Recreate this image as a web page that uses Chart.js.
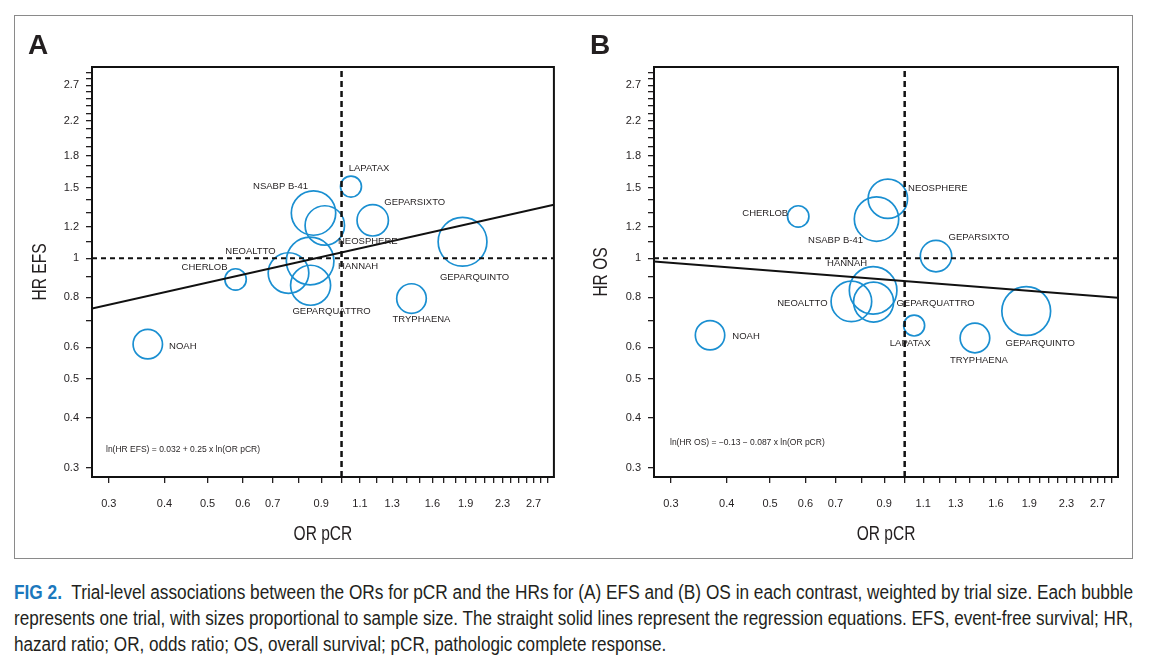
<!DOCTYPE html>
<html>
<head>
<meta charset="utf-8">
<script src="https://cdn.jsdelivr.net/npm/chart.js@4.4.1/dist/chart.umd.min.js"></script>
<style>
  body { margin: 0; background: #fff; width: 1149px; height: 667px; position: relative; overflow: hidden; }
  #frame { position: absolute; left: 14px; top: 15px; width: 1117px; height: 542px; border: 1.5px solid #8a8a8a; }
  canvas { position: absolute; top: 0; }
  #chartA { left: 0; }
  #chartB { left: 580px; }
  #caption {
    position: absolute; left: 14px; top: 579px; width: 1119px;
    font-family: 'Liberation Sans', Arial, sans-serif;
    font-size: 20px; line-height: 26px; color: #231f20;
  }
  .cl { display: block; width: max-content; white-space: nowrap; transform-origin: 0 50%; }
  .fig { color: #1b78bd; font-weight: bold; }
</style>
</head>
<body>
<div id="frame"></div>
<canvas id="chartA" width="580" height="560"></canvas>
<canvas id="chartB" width="569" height="560"></canvas>
<div id="caption">
  <div class="cl" data-fit="1"><span class="fig">FIG 2.</span>&nbsp; Trial-level associations between the ORs for pCR and the HRs for (A) EFS and (B) OS in each contrast, weighted by trial size. Each bubble</div>
  <div class="cl" data-fit="1">represents one trial, with sizes proportional to sample size. The straight solid lines represent the regression equations. EFS, event-free survival; HR,</div>
  <div class="cl">hazard ratio; OR, odds ratio; OS, overall survival; pCR, pathologic complete response.</div>
</div>
<script>
// trial-level data
const trials = ['NOAH', 'CHERLOB', 'NEOALTTO', 'GEPARQUATTRO', 'HANNAH', 'NSABP B-41',
                'NEOSPHERE', 'LAPATAX', 'GEPARSIXTO', 'TRYPHAENA', 'GEPARQUINTO'];
const orPcr = [0.367, 0.578, 0.76, 0.852, 0.85, 0.865, 0.917, 1.05, 1.175, 1.436, 1.87];
const hrEfs = [0.611, 0.886, 0.919, 0.857, 0.985, 1.297, 1.208, 1.51, 1.244, 0.794, 1.10];
const hrOs = [0.643, 1.272, 0.781, 0.778, 0.832, 1.253, 1.408, 0.680, 1.013, 0.633, 0.739];
const sampleSize = [216, 114, 412, 400, 566, 493, 388, 110, 246, 219, 595];

// regression lines (end points at the axis limits)
const efsFitX = [0.275, 3.0];
const efsFitY = [0.75, 1.36];
const osFitX = [0.275, 3.0];
const osFitY = [0.982, 0.798];

// axes
const xRange = [0.275, 3.0];
const yRange = [0.285, 3.0];
const xTickLabels = [0.3, 0.4, 0.5, 0.6, 0.7, 0.9, 1.1, 1.3, 1.6, 1.9, 2.3, 2.7];
const yTickLabels = [0.3, 0.4, 0.5, 0.6, 0.8, 1, 1.2, 1.5, 1.8, 2.2, 2.7];

// label placement relative to bubble centre (px)
const efsLabelOffsets = [[35, 2], [-31, -12], [-38, -22], [21, 26], [48, 5], [-33, -27],
                         [43, 16], [18, -18], [42, -18], [10, 21], [12, 36]];
const osLabelOffsets = [[36, 1], [-33, -3], [-49, 2], [62, 1], [-26, -27], [-41, 21],
                        [50, -10], [-4, 18], [43, -19], [4, 22], [14, 32]];

const BLUE = '#1a8fd1';
const INK = '#231f20';
const SANS = "'Liberation Sans', Arial, sans-serif";
const SQUEEZE = 0.74; // no condensed face installed, so axis titles get squeezed

// minor tick every 0.1 between 0.3 and 2.9
const tickMarks = [];
for (let i = 3; i <= 29; i++) tickMarks.push(i / 10);

function labelFor(value, list) {
  const hit = list.find(v => Math.abs(v - value) < 1e-6);
  return hit === undefined ? '' : String(hit);
}

// frame, bubble names, equation, axis titles and panel letter
const annotate = {
  id: 'annotate',
  afterDatasetsDraw(chart, args, opts) {
    const { ctx, chartArea } = chart;
    ctx.save();
    ctx.strokeStyle = '#111';
    ctx.lineWidth = 2;
    ctx.strokeRect(chartArea.left, chartArea.top, chartArea.right - chartArea.left, chartArea.bottom - chartArea.top);

    const meta = chart.getDatasetMeta(3);
    ctx.fillStyle = INK;
    ctx.font = '9.5px ' + SANS;
    ctx.textAlign = 'center';
    ctx.textBaseline = 'middle';
    meta.data.forEach((el, i) => {
      const [dx, dy] = opts.offsets[i];
      ctx.fillText(trials[i], el.x + dx, el.y + dy);
    });

    ctx.font = '8.5px ' + SANS;
    ctx.textAlign = 'left';
    ctx.fillText(opts.equation, chartArea.left + opts.eqDx, chartArea.bottom - opts.eqDy);

    // axis titles
    ctx.font = '21px ' + SANS;
    ctx.textAlign = 'center';
    ctx.save();
    ctx.translate((chartArea.left + chartArea.right) / 2, 534);
    ctx.scale(SQUEEZE, 1);
    ctx.fillText('OR pCR', 0, 0);
    ctx.restore();
    ctx.save();
    ctx.translate(opts.yTitleX, (chartArea.top + chartArea.bottom) / 2);
    ctx.rotate(-Math.PI / 2);
    ctx.scale(SQUEEZE, 1);
    ctx.fillText(opts.yTitle, 0, 0);
    ctx.restore();

    ctx.font = 'bold 28px ' + SANS;
    ctx.textBaseline = 'alphabetic';
    ctx.fillText(opts.letter, opts.letterX, 54);
    ctx.restore();
  }
};

function makePanel(id, hr, fitX, fitY, p) {
  const bubbles = trials.map((t, i) => ({ x: orPcr[i], y: hr[i], r: Math.sqrt(sampleSize[i]) }));
  const fit = fitX.map((x, i) => ({ x: x, y: fitY[i] }));
  return new Chart(document.getElementById(id), {
    type: 'bubble',
    data: {
      datasets: [
        { type: 'line', data: [{ x: xRange[0], y: 1 }, { x: xRange[1], y: 1 }],
          borderColor: '#111', borderWidth: 2, borderDash: [5, 4], pointRadius: 0, fill: false },
        { type: 'line', data: [{ x: 1, y: yRange[0] }, { x: 1, y: yRange[1] }],
          borderColor: '#111', borderWidth: 2.5, borderDash: [6, 4], pointRadius: 0, fill: false },
        { type: 'line', data: fit, borderColor: '#111', borderWidth: 2, pointRadius: 0, fill: false },
        { type: 'bubble', data: bubbles, borderColor: BLUE, backgroundColor: 'rgba(0,0,0,0)',
          borderWidth: 1.7, hoverRadius: 0, hoverBorderWidth: 1.7 }
      ]
    },
    options: {
      responsive: false,
      animation: false,
      events: [],
      layout: { padding: { top: 67, right: p.padRight, bottom: 0, left: 0 } },
      plugins: {
        legend: { display: false },
        tooltip: { enabled: false },
        annotate: { offsets: p.offsets, equation: p.equation, eqDx: p.eqDx, eqDy: p.eqDy,
                    letter: p.letter, letterX: p.letterX, yTitle: p.yTitle, yTitleX: p.yTitleX }
      },
      scales: {
        x: {
          type: 'logarithmic', min: xRange[0], max: xRange[1], bounds: 'data',
          afterBuildTicks: s => { s.ticks = tickMarks.map(v => ({ value: v })); },
          afterFit: s => { s.height = 83; },
          grid: { display: true, drawOnChartArea: false, drawTicks: true, tickLength: 6, color: INK, lineWidth: 1.3 },
          border: { display: true, color: '#111', width: 2 },
          ticks: { autoSkip: false, maxRotation: 0, padding: 14, color: INK,
                   font: { family: SANS, size: 11 }, callback: v => labelFor(v, xTickLabels) },
          title: { display: false }
        },
        y: {
          type: 'logarithmic', min: yRange[0], max: yRange[1], bounds: 'data',
          afterBuildTicks: s => { s.ticks = tickMarks.map(v => ({ value: v })); },
          afterFit: s => { s.width = p.yWidth; },
          grid: { display: true, drawOnChartArea: false, drawTicks: true, tickLength: 6, color: INK, lineWidth: 1.3 },
          border: { display: true, color: '#111', width: 2 },
          ticks: { autoSkip: false, padding: 7, color: INK,
                   font: { family: SANS, size: 11 }, callback: v => labelFor(v, yTickLabels) },
          title: { display: false }
        }
      }
    },
    plugins: [annotate]
  });
}

makePanel('chartA', hrEfs, efsFitX, efsFitY, {
  offsets: efsLabelOffsets, equation: 'ln(HR EFS) = 0.032 + 0.25 x ln(OR pCR)',
  eqDx: 14, eqDy: 27, letter: 'A', letterX: 38, yTitle: 'HR EFS', yTitleX: 40,
  yWidth: 92, padRight: 24
});
makePanel('chartB', hrOs, osFitX, osFitY, {
  offsets: osLabelOffsets, equation: 'ln(HR OS) = \u22120.13 \u2212 0.087 x ln(OR pCR)',
  eqDx: 16, eqDy: 34, letter: 'B', letterX: 20, yTitle: 'HR OS', yTitleX: 21,
  yWidth: 74, padRight: 31
});

// squeeze caption lines to the frame width (condensed type in the original)
(function fitCaption() {
  const lines = document.querySelectorAll('#caption .cl');
  const target = 1119;
  let k = 1;
  lines.forEach((el, i) => {
    const w = el.getBoundingClientRect().width;
    if (el.dataset.fit && w > 0) k = target / w;
    el.style.transform = 'scaleX(' + k + ')';
  });
})();
</script>
</body>
</html>
